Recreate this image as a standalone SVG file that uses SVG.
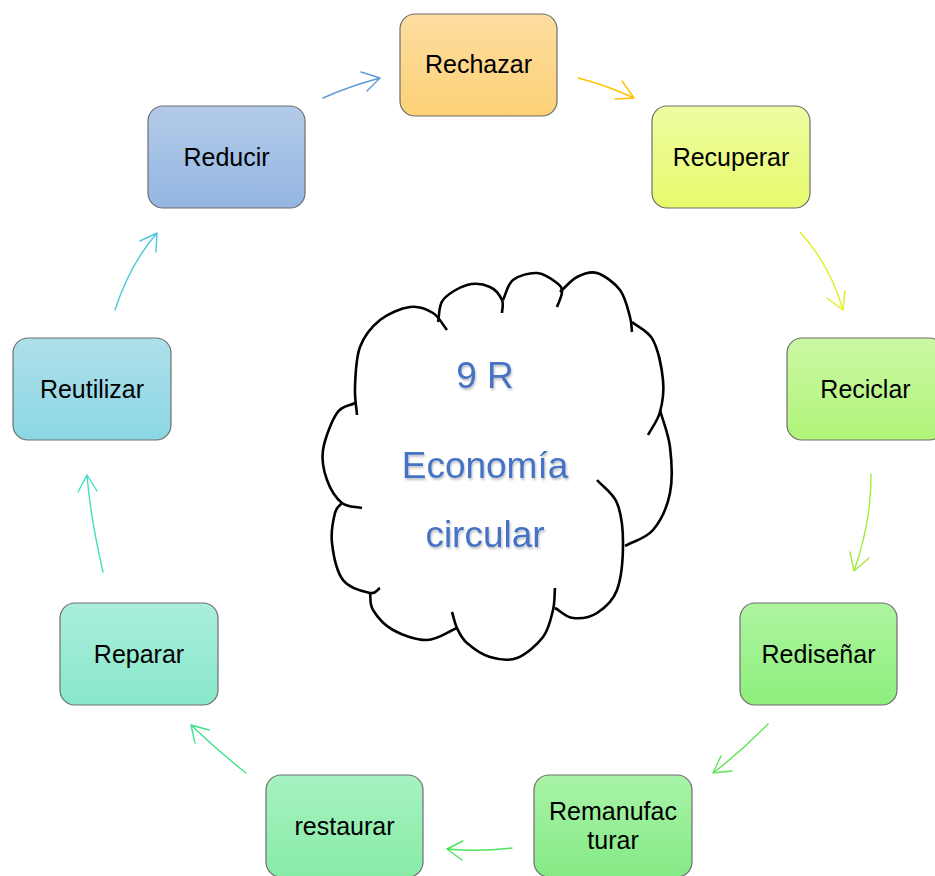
<svg xmlns="http://www.w3.org/2000/svg" width="935" height="876" viewBox="0 0 935 876">
<defs>
<linearGradient id="gRechazar" x1="0" y1="0" x2="0" y2="1"><stop offset="0" stop-color="#fddda0"/><stop offset="1" stop-color="#fcd177"/></linearGradient>
<linearGradient id="gRecuperar" x1="0" y1="0" x2="0" y2="1"><stop offset="0" stop-color="#effca2"/><stop offset="1" stop-color="#e7fa6c"/></linearGradient>
<linearGradient id="gReciclar" x1="0" y1="0" x2="0" y2="1"><stop offset="0" stop-color="#cbf8a4"/><stop offset="1" stop-color="#b0f479"/></linearGradient>
<linearGradient id="gRedisenar" x1="0" y1="0" x2="0" y2="1"><stop offset="0" stop-color="#aef5a0"/><stop offset="1" stop-color="#8def7c"/></linearGradient>
<linearGradient id="gReman" x1="0" y1="0" x2="0" y2="1"><stop offset="0" stop-color="#a8f3a8"/><stop offset="1" stop-color="#85ea85"/></linearGradient>
<linearGradient id="gRestaurar" x1="0" y1="0" x2="0" y2="1"><stop offset="0" stop-color="#a6f1c0"/><stop offset="1" stop-color="#88eca8"/></linearGradient>
<linearGradient id="gReparar" x1="0" y1="0" x2="0" y2="1"><stop offset="0" stop-color="#a9eedc"/><stop offset="1" stop-color="#89e7cb"/></linearGradient>
<linearGradient id="gReutilizar" x1="0" y1="0" x2="0" y2="1"><stop offset="0" stop-color="#aedfe9"/><stop offset="1" stop-color="#8cd7e5"/></linearGradient>
<linearGradient id="gReducir" x1="0" y1="0" x2="0" y2="1"><stop offset="0" stop-color="#b3cbe9"/><stop offset="1" stop-color="#94b6e2"/></linearGradient>
<filter id="shadow" x="-10%" y="-10%" width="120%" height="130%"><feDropShadow dx="1" dy="2" stdDeviation="1.2" flood-color="#000" flood-opacity="0.25"/></filter>
</defs>
<style>
.box{stroke:#6e6e6e;stroke-width:1.2}
.lbl{font-family:"Liberation Sans",Arial,sans-serif;font-size:25px;fill:#000;text-anchor:middle}
.conn path{fill:none;stroke-width:1.4;stroke-linecap:round;stroke-linejoin:round}
.cloud path{fill:none;stroke:#000;stroke-width:2.6;stroke-linecap:butt}
.ctxt{font-family:"Liberation Sans",Arial,sans-serif;font-size:37px;fill:#4472c4;text-anchor:middle}
</style>
<rect width="935" height="876" fill="#fff"/>

<g id="cloud" class="cloud">
<path d="M357,415 C356.3,405.7 354.5,398.3 355,387 C355.5,375.7 355.8,358.2 360,347 C364.2,335.8 371.7,326.7 380,320 C388.3,313.3 401.2,308.2 410,307 C418.8,305.8 426.8,309.2 433,313 C439.2,316.8 442.3,324.3 447,330"/>
<path d="M438,322 C439.7,314.7 438.2,306.2 443,300 C447.8,293.8 459.2,287.2 467,285 C474.8,282.8 484,284.2 490,287 C495.8,289.5 500,295.7 502,300 C504,304.3 502,308.7 502,313"/>
<path d="M503,300 C506.3,293.3 507.3,284.5 513,280 C518.7,275.5 529.7,272.5 537,273 C544.3,273.5 552.8,279.8 557,283 C561.2,286.2 562,288 562,292 C562,296 558.7,302 557,307"/>
<path d="M560,292 C565.7,287 570.8,280.2 577,277 C583.2,273.8 589.8,270.8 597,273 C604.2,275.2 614.5,282.7 620,290 C625.5,297.3 628,310 630,317 C632,324 631.3,327 632,332"/>
<path d="M632,322 C639,328 647.8,330.3 653,340 C658.2,349.7 661.8,368 663,380 C664.2,392 662.5,402.8 660,412 C657.5,421.2 652,427.3 648,435"/>
<path d="M660,410 C663.3,422.3 668.3,433.2 670,447 C671.7,460.8 672.8,479.2 670,493 C667.2,506.8 660.5,521.2 653,530 C645.5,538.8 634.3,540.7 625,546"/>
<path d="M597,480 C603.7,487.7 612.7,492.5 617,503 C621.3,513.5 623,528.5 623,543 C623,557.5 621.3,578.3 617,590 C612.7,601.7 604.3,608.3 597,613 C589.7,617.7 580,618.8 573,618 C566,617.2 561,611.3 555,608"/>
<path d="M555,588 C554.3,595.3 555,601.8 553,610 C551,618.2 549,629 543,637 C537,645 525.8,654.7 517,658 C508.2,661.3 498.3,659.5 490,657 C481.7,654.5 472.5,647.8 467,643 C461.5,638.2 459.5,633.2 457,628 C454.5,622.8 453.7,617.3 452,612"/>
<path d="M457,628 C447,632 437.7,639.7 427,640 C416.3,640.3 402,635 393,630 C384,625 376.8,616.2 373,610 C369.2,603.8 371,598.7 370,593"/>
<path d="M380,588 C376.7,589.7 376.2,594.3 370,593 C363.8,591.7 349.3,588.3 343,580 C336.7,571.7 333.3,554.2 332,543 C330.7,531.8 333.3,519.7 335,513 C336.7,506.3 339.7,506.3 342,503"/>
<path d="M362,508 C355.3,506.3 347.8,507.7 342,503 C336.2,498.3 330.2,488.8 327,480 C323.8,471.2 321.3,461.2 323,450 C324.7,438.8 331.7,420.8 337,413 C342.3,405.2 349,406.3 355,403"/>
<g filter="url(#shadow)">
<text class="ctxt" x="485" y="388">9 R</text>
<text class="ctxt" x="485" y="478">Economía</text>
<text class="ctxt" x="485" y="547">circular</text>
</g>
</g>

<g id="node-rechazar"><rect class="box" x="400" y="14" width="157" height="102" rx="15" fill="url(#gRechazar)"/><text class="lbl" x="478.5" y="73">Rechazar</text></g>
<g id="node-recuperar"><rect class="box" x="652" y="106" width="158" height="102" rx="15" fill="url(#gRecuperar)"/><text class="lbl" x="731" y="166">Recuperar</text></g>
<g id="node-reciclar"><rect class="box" x="787" y="338" width="157" height="102" rx="15" fill="url(#gReciclar)"/><text class="lbl" x="865.5" y="398">Reciclar</text></g>
<g id="node-redisenar"><rect class="box" x="740" y="603" width="157" height="102" rx="15" fill="url(#gRedisenar)"/><text class="lbl" x="818.5" y="663">Rediseñar</text></g>
<g id="node-remanufacturar"><rect class="box" x="534" y="775" width="158" height="102" rx="15" fill="url(#gReman)"/><text class="lbl" x="613" y="820">Remanufac</text><text class="lbl" x="613" y="849">turar</text></g>
<g id="node-restaurar"><rect class="box" x="266" y="775" width="157" height="102" rx="15" fill="url(#gRestaurar)"/><text class="lbl" x="344.5" y="835">restaurar</text></g>
<g id="node-reparar"><rect class="box" x="60" y="603" width="158" height="102" rx="15" fill="url(#gReparar)"/><text class="lbl" x="139" y="663">Reparar</text></g>
<g id="node-reutilizar"><rect class="box" x="13" y="338" width="158" height="102" rx="15" fill="url(#gReutilizar)"/><text class="lbl" x="92" y="398">Reutilizar</text></g>
<g id="node-reducir"><rect class="box" x="148" y="106" width="157" height="102" rx="15" fill="url(#gReducir)"/><text class="lbl" x="226.5" y="166">Reducir</text></g>

<g id="connectors" class="conn">
<path stroke="#5b9bd5" d="M323,98 Q350,86 380,78 M361,72 L380,78 L367,91"/>
<path stroke="#ffc000" d="M578,78 Q606,85 634,98 M622,81 L634,98 L615,99"/>
<path stroke="#e2ef1e" d="M800,232 Q830,265 843,310 M827,298 L843,310 L845,291"/>
<path stroke="#a3ec3c" d="M871,474 Q871.5,521.5 854,571 M850,552 L854,571 L869,558"/>
<path stroke="#62e35a" d="M768,724 Q742,751 713,773 M721,756 L713,773 L732,771"/>
<path stroke="#4de35d" d="M512,848 Q480,852 447,849 M463,841 L447,849 L462,860"/>
<path stroke="#40e38a" d="M246,773 Q218,751 191,725 M209,730 L191,725 L195,743"/>
<path stroke="#40dfc0" d="M103,572 Q90,515 87,475 M78,492 L87,475 L97,491"/>
<path stroke="#4cc9e0" d="M115,310 Q130,264 157,233 M140,241 L157,233 L156,252"/>
</g>
</svg>
